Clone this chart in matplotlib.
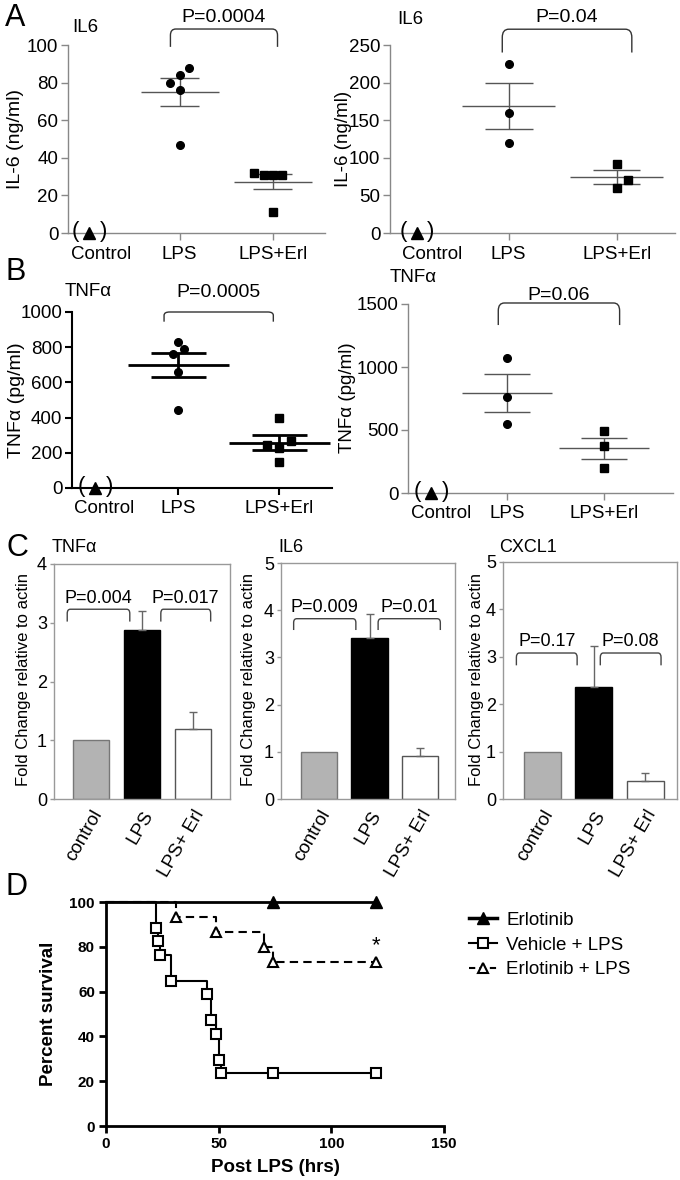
import numpy as np
import matplotlib
matplotlib.use('Agg')
import matplotlib.pyplot as plt
from matplotlib.path import Path
from matplotlib.patches import PathPatch
from matplotlib.lines import Line2D

plt.rcParams['font.family'] = ['Liberation Sans', 'DejaVu Sans']

# ---- data ----
groups = ['Control', 'LPS', 'LPS+Erl']

il6_a_lps = [88, 84, 80, 76, 47]
il6_a_erl = [32, 31, 31, 31, 11]
il6_b_lps = [225, 160, 120]
il6_b_erl = [92, 70, 60]
tnf_a_lps = [830, 790, 760, 660, 445]
tnf_a_erl = [400, 265, 245, 230, 150]
tnf_b_lps = [1075, 760, 550]
tnf_b_erl = [490, 370, 200]

bar_groups = ['control', 'LPS', 'LPS+ Erl']
tnf_fold = [1.0, 2.87, 1.2]
tnf_err = [0, 0.33, 0.28]
il6_fold = [1.0, 3.42, 0.92]
il6_err = [0, 0.51, 0.15]
cxcl1_fold = [1.0, 2.37, 0.37]
cxcl1_err = [0, 0.85, 0.18]

# survival (%), step after each time
veh_t = [0, 22, 23, 24, 29, 45, 46.5, 49, 50, 51, 120]
veh_s = [100, 88.2, 82.4, 76.5, 64.7, 58.8, 47.1, 41.2, 29.4, 23.5, 23.5]
veh_cens = [74, 120]
erl_lps_t = [0, 31, 49, 70, 74, 120]
erl_lps_s = [100, 93.3, 86.7, 80, 73.3, 73.3]
erl_t = [0, 120]
erl_s = [100, 100]
erl_cens = [74, 120]

W, H = 680, 1180
fig = plt.figure(figsize=(6.8, 11.8), dpi=100)


def add_ax(l, t, r, b):
    return fig.add_axes([l / W, 1 - b / H, (r - l) / W, (b - t) / H])


def ftext(x, y, s, **kw):
    kw.setdefault('ha', 'center')
    kw.setdefault('va', 'center')
    fig.text(x / W, 1 - y / H, s, **kw)


def bracket(ax, x1, x2, ytop, yleg, text, ytext, fs, lw=1.0, color='#333333'):
    rx = (x2 - x1) * 0.05
    ry = (ytop - yleg) * 0.35
    verts = [(x1, yleg), (x1, ytop - ry), (x1, ytop), (x1 + rx, ytop),
             (x2 - rx, ytop), (x2, ytop), (x2, ytop - ry), (x2, yleg)]
    codes = [Path.MOVETO, Path.LINETO, Path.CURVE3, Path.CURVE3,
             Path.LINETO, Path.CURVE3, Path.CURVE3, Path.LINETO]
    ax.add_patch(PathPatch(Path(verts, codes), fill=False, lw=lw, ec=color, clip_on=False))
    ax.text((x1 + x2) / 2, ytext, text, ha='center', va='center', fontsize=fs, clip_on=False)


def dot_panel(ax, lps, erl, ctrl_x, ctrl_lab, lps_off, erl_off, ylim, yticks,
              mean_hw, sem_hw, line_c, line_w, spine_c, spine_w, xlim):
    ax.plot(2 + np.array(lps_off), lps, 'o', color='k', ms=5.5, clip_on=False, zorder=4)
    ax.plot(3 + np.array(erl_off), erl, 's', color='k', ms=5.5, clip_on=False, zorder=4)
    for pos, vals in ((2, lps), (3, erl)):
        m = np.mean(vals)
        s = np.std(vals, ddof=1) / np.sqrt(len(vals))
        ax.hlines(m, pos - mean_hw, pos + mean_hw, color=line_c, lw=line_w, zorder=3)
        ax.hlines([m - s, m + s], pos - sem_hw, pos + sem_hw, color=line_c, lw=line_w, zorder=3)
        ax.vlines(pos, m - s, m + s, color=line_c, lw=line_w, zorder=3)
    ax.plot(ctrl_x, 0, '^', color='k', ms=9, clip_on=False, zorder=5)
    ax.annotate('(', (ctrl_x, 0), xytext=(-10, 1), textcoords='offset points',
                ha='center', va='center', fontsize=16)
    ax.annotate(')', (ctrl_x, 0), xytext=(10, 1), textcoords='offset points',
                ha='center', va='center', fontsize=16)
    ax.set_xlim(*xlim)
    ax.set_ylim(*ylim)
    ax.set_yticks(yticks)
    ax.set_xticks([ctrl_lab, 2, 3])
    ax.set_xticklabels(groups)
    ax.xaxis.get_major_ticks()[0].tick1line.set_visible(False)
    for sp in ('top', 'right'):
        ax.spines[sp].set_visible(False)
    for sp in ('left', 'bottom'):
        ax.spines[sp].set_color(spine_c)
        ax.spines[sp].set_linewidth(spine_w)
    ax.tick_params(direction='out', length=5, width=spine_w, color=spine_c,
                   labelsize=13.5, pad=2)
    ax.tick_params(axis='x', pad=4)


# ---- panel A ----
axA1 = add_ax(68, 45, 325, 233)
dot_panel(axA1, il6_a_lps, il6_a_erl, 1.03, 1.16, [0.1, 0, -0.1, 0, 0],
          [-0.2, -0.1, 0, 0.1, 0], (0, 100), range(0, 101, 20), 0.42, 0.21,
          '#555555', 1.0, '#888888', 1.0, (0.8, 3.56))
bracket(axA1, 1.9, 3.05, 108.5, 99, 'P=0.0004', 114.5, 14)

axA2 = add_ax(390, 45, 675, 233)
dot_panel(axA2, il6_b_lps, il6_b_erl, 1.15, 1.29, [0, 0, 0], [0, 0.1, 0],
          (0, 250), range(0, 251, 50), 0.43, 0.22,
          '#555555', 1.0, '#888888', 1.0, (0.9, 3.54))
bracket(axA2, 1.94, 3.14, 271, 240, 'P=0.04', 286, 14)

ftext(15, 18, 'A', fontsize=22)
ftext(72, 27, 'IL6', fontsize=13.5, ha='left')
ftext(397, 20, 'IL6', fontsize=13.5, ha='left')
ftext(15, 139, 'IL-6 (ng/ml)', fontsize=14, rotation=90)
ftext(343, 139, 'IL-6 (ng/ml)', fontsize=13.5, rotation=90)

# ---- panel B ----
axB1 = add_ax(72, 312, 332, 488)
dot_panel(axB1, tnf_a_lps, tnf_a_erl, 1.18, 1.27, [0, 0.06, -0.05, 0, 0],
          [0, 0.11, -0.12, 0, 0], (0, 1000), range(0, 1001, 200), 0.5, 0.27,
          'k', 2.0, 'k', 1.5, (0.95, 3.52))
bracket(axB1, 1.86, 2.94, 1000, 945, 'P=0.0005', 1108, 14)

axB2 = add_ax(408, 304, 673, 493)
dot_panel(axB2, tnf_b_lps, tnf_b_erl, 1.22, 1.32, [0, 0, 0], [0, 0, 0],
          (0, 1500), [0, 500, 1000, 1500], 0.46, 0.24,
          '#555555', 1.0, '#888888', 1.0, (0.98, 3.71))
bracket(axB2, 1.91, 3.16, 1508, 1333, 'P=0.06', 1570, 14)

ftext(16, 272, 'B', fontsize=22)
ftext(65, 292, 'TNFα', fontsize=13.5, ha='left')
ftext(390, 278, 'TNFα', fontsize=13.5, ha='left')
ftext(17, 400, 'TNFα (pg/ml)', fontsize=14, rotation=90)
ftext(347, 398, 'TNFα (pg/ml)', fontsize=13.5, rotation=90)

# ---- panel C ----
bar_colors = ['#b3b3b3', 'black', 'white']
bar_edges = ['#777777', 'black', '#555555']


def bar_panel(ax, vals, errs, ymax, xlim, br1, br2, btop, bleg, btext):
    x = np.arange(len(vals))
    ax.bar(x, vals, width=0.72, color=bar_colors, edgecolor=bar_edges, lw=1.0, zorder=2)
    for xi, v, e in zip(x, vals, errs):
        if e > 0:
            ax.errorbar(xi, v, yerr=[[0], [e]], fmt='none', ecolor='#666666',
                        elinewidth=1.0, capsize=3, capthick=1.0, zorder=3)
    ax.set_xlim(*xlim)
    ax.set_ylim(0, ymax)
    ax.set_yticks(range(0, ymax + 1))
    ax.set_xticks(x)
    ax.set_xticklabels(bar_groups, rotation=60, ha='right', rotation_mode='anchor')
    for sp in ax.spines.values():
        sp.set_color('#999999')
        sp.set_linewidth(1.0)
    ax.tick_params(direction='out', length=3, width=1, color='#999999', labelsize=13, pad=2)
    ax.tick_params(axis='x', length=0, pad=6, labelsize=13.5)
    bracket(ax, br1[0], br1[1], btop, bleg, br1[2], btext, 13, color='#444444')
    bracket(ax, br2[0], br2[1], btop, bleg, br2[2], btext, 13, color='#444444')


axC1 = add_ax(54, 564, 230, 799)
bar_panel(axC1, tnf_fold, tnf_err, 4, (-0.73, 2.73),
          (-0.47, 0.76, 'P=0.004'), (1.37, 2.35, 'P=0.017'), 3.23, 3.02, 3.42)
axC2 = add_ax(281, 563, 455, 799)
bar_panel(axC2, il6_fold, il6_err, 5, (-0.75, 2.69),
          (-0.5, 0.73, 'P=0.009'), (1.17, 2.4, 'P=0.01'), 3.82, 3.58, 4.05)
axC3 = add_ax(503, 562, 677, 799)
bar_panel(axC3, cxcl1_fold, cxcl1_err, 5, (-0.76, 2.62),
          (-0.5, 0.68, 'P=0.17'), (1.13, 2.31, 'P=0.08'), 3.08, 2.82, 3.32)

ftext(17, 548, 'C', fontsize=22)
ftext(52, 548, 'TNFα', fontsize=13, ha='left')
ftext(278, 548, 'IL6', fontsize=13, ha='left')
ftext(499, 548, 'CXCL1', fontsize=13, ha='left')
for xc in (24, 249, 477):
    ftext(xc, 680, 'Fold Change relative to actin', fontsize=12, rotation=90)

# ---- panel D ----
axD = add_ax(106, 902, 444, 1126)
axD.step(erl_t, erl_s, where='post', color='k', lw=2, clip_on=False)
axD.plot(erl_cens, [100] * len(erl_cens), '^', color='k', ms=8, clip_on=False)
axD.step(veh_t, veh_s, where='post', color='k', lw=1.5, clip_on=False)
axD.plot(veh_t[1:-1], veh_s[1:-1], 's', mfc='white', mec='k', mew=1.5, ms=7, clip_on=False)
axD.plot(veh_cens, [veh_s[-1]] * len(veh_cens), 's', mfc='white', mec='k', mew=1.5, ms=7,
         clip_on=False)
axD.step(erl_lps_t, erl_lps_s, where='post', color='k', lw=1.5, ls=(0, (4, 2.5)), clip_on=False)
axD.plot(erl_lps_t[1:], erl_lps_s[1:], '^', mfc='white', mec='k', mew=1.5, ms=7.5, clip_on=False)
axD.text(120, 80.5, '*', ha='center', va='center', fontsize=16)

axD.set_xlim(0, 150)
axD.set_ylim(0, 100)
axD.set_xticks([0, 50, 100, 150])
axD.set_yticks(range(0, 101, 20))
for sp in ('top', 'right'):
    axD.spines[sp].set_visible(False)
for sp in ('left', 'bottom'):
    axD.spines[sp].set_linewidth(2)
axD.tick_params(direction='out', length=5, width=2, labelsize=11, pad=3)
for lab in axD.get_xticklabels() + axD.get_yticklabels():
    lab.set_fontweight('bold')
axD.set_xlabel('Post LPS (hrs)', fontsize=13.5, fontweight='bold', labelpad=6)
axD.set_ylabel('Percent survival', fontsize=13.5, fontweight='bold', labelpad=9)

handles = [
    Line2D([], [], color='k', lw=2.5, marker='^', ms=8),
    Line2D([], [], color='k', lw=1.5, marker='s', ms=7, mfc='white', mew=1.5),
    Line2D([], [], color='k', lw=1.5, ls=(0, (3, 2)), marker='^', ms=7.5, mfc='white', mew=1.5),
]
axD.legend(handles, ['Erlotinib', 'Vehicle + LPS', 'Erlotinib + LPS'],
           loc='upper left', bbox_to_anchor=(452 / W, 1 - 895 / H),
           bbox_transform=fig.transFigure, frameon=False, fontsize=13.5,
           handlelength=1.5, handletextpad=0.5, labelspacing=0.4)

ftext(17, 887, 'D', fontsize=22)

fig.savefig('out.png', dpi=100)
